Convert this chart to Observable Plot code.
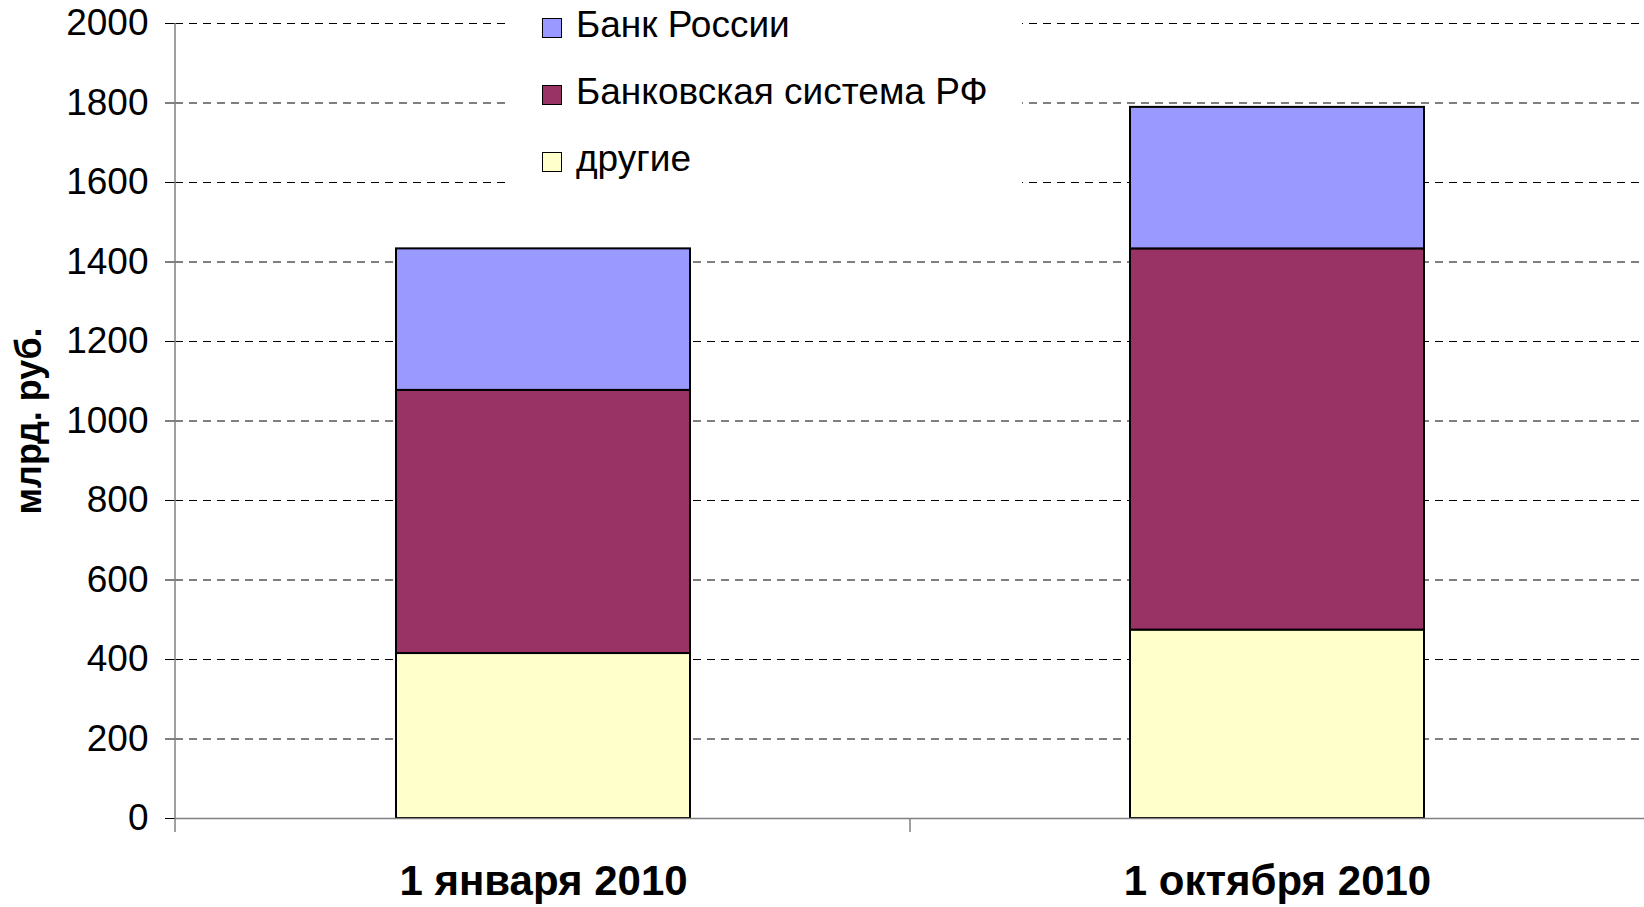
<!DOCTYPE html>
<html><head><meta charset="utf-8">
<script src="https://cdn.jsdelivr.net/npm/d3@7"></script>
<script src="https://cdn.jsdelivr.net/npm/@observablehq/plot@0.6"></script>
<style>
html,body{margin:0;padding:0;background:#fff;overflow:hidden}
#wrap{position:relative;width:1644px;height:907px;font-family:"Liberation Sans",Arial,sans-serif}
#legend{position:absolute;left:506px;top:0;width:516px;height:200px;background:#fff}
.item{position:absolute;left:36px;font-size:37px;line-height:37px;color:#000;white-space:nowrap}
.sw{display:inline-block;width:18px;height:18px;border:1.5px solid #000;margin-right:14px;vertical-align:baseline;position:relative;top:1px}
g[aria-label="y-axis label"] text{font-weight:bold;font-size:36px}
</style></head>
<body><div id="wrap"></div>
<script>
// ---- data ----
const categories = ["1 января 2010", "1 октября 2010"];
const series = ["другие", "Банковская система РФ", "Банк России"];   // stack order, bottom to top
const others = [415, 474];
const bankSystem = [662, 959];
const bankOfRussia = [356, 356];
const seriesColors = ["#FFFFCC", "#993366", "#9999FF"];
const yTicks = [0, 200, 400, 600, 800, 1000, 1200, 1400, 1600, 1800, 2000];
const yLabel = "млрд. руб.";
const legendOrder = ["Банк России", "Банковская система РФ", "другие"];

const seriesValues = [others, bankSystem, bankOfRussia];
const data = categories.flatMap((c, i) => series.map((s, j) => ({date: c, series: s, value: seriesValues[j][i]})));

const plot = Plot.plot({
  width: 1644, height: 907,
  marginLeft: 175, marginRight: 0, marginTop: 23, marginBottom: 89,
  style: {fontFamily: "'Liberation Sans', Arial, sans-serif", background: "#fff", color: "#000", overflow: "visible"},
  x: {domain: categories, paddingInner: 0.6, paddingOuter: 0.3, label: null},
  y: {domain: [0, 2000], label: null},
  color: {domain: series, range: seriesColors},
  marks: [
    Plot.ruleY(yTicks.filter(d => d > 0), {stroke: "#000", strokeWidth: 1, strokeDasharray: "8,6"}),
    Plot.barY(data, {x: "date", y: "value", fill: "series", stroke: "#000", strokeWidth: 2, order: null}),
    Plot.ruleY([0], {stroke: "#808080", strokeWidth: 1.5}),
    Plot.axisY({ticks: yTicks, tickFormat: d => String(d), tickSize: 10, tickPadding: 17, fontSize: 37, stroke: "#000", label: yLabel, labelAnchor: "center", labelOffset: 160, labelArrow: "none"}),
    Plot.axisX({tickSize: 0, tickPadding: 47, fontSize: 42, fontWeight: "bold", label: null})
  ]
});
document.getElementById("wrap").appendChild(plot);

// axis line and category separators, positioned from the scales
const xs = plot.scale("x"), ys = plot.scale("y");
const svg = d3.select(plot);
const y0 = ys.apply(0), yTop = ys.apply(2000);
const left = 175;
svg.append("line").attr("x1", left).attr("x2", left).attr("y1", yTop).attr("y2", y0 + 14)
  .attr("stroke", "#808080").attr("stroke-width", 1.5);
categories.slice(1).forEach(c => {
  const bx = xs.apply(c) - (xs.step - xs.bandwidth) / 2;
  svg.append("line").attr("x1", bx).attr("x2", bx).attr("y1", y0).attr("y2", y0 + 14)
    .attr("stroke", "#808080").attr("stroke-width", 1.5);
});

// legend
const legend = document.createElement("div");
legend.id = "legend";
legendOrder.forEach((name, i) => {
  const item = document.createElement("div");
  item.className = "item";
  item.style.top = (6 + i * 67) + "px";
  const sw = document.createElement("span");
  sw.className = "sw";
  sw.style.background = seriesColors[series.indexOf(name)];
  item.appendChild(sw);
  item.appendChild(document.createTextNode(name));
  legend.appendChild(item);
});
document.getElementById("wrap").appendChild(legend);
</script>
</body></html>
